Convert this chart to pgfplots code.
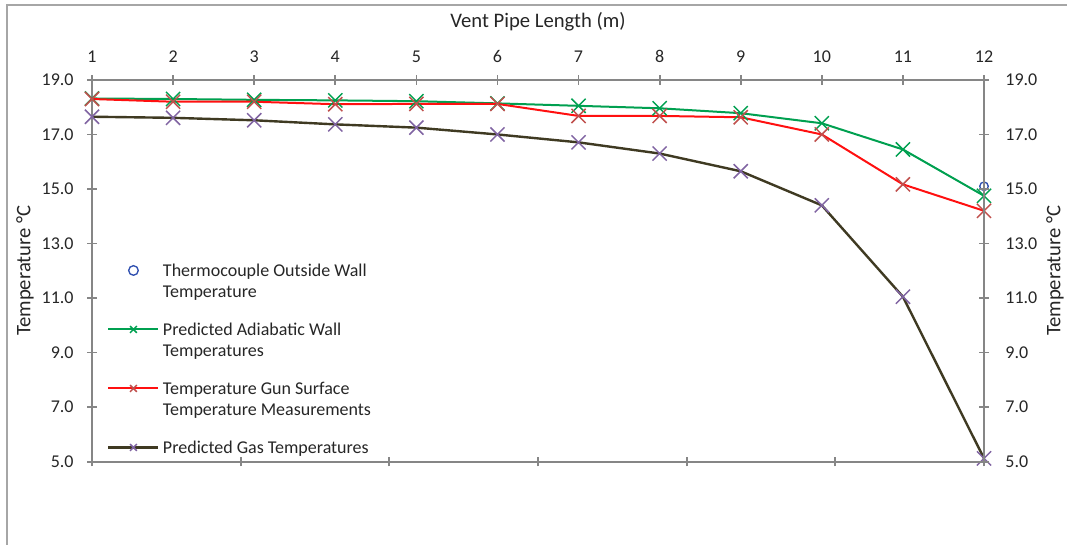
\documentclass[border=0pt]{standalone}
\usepackage{pgfplots}
\pgfplotsset{compat=1.18}
\usepackage{fontspec}
\setmainfont{Carlito}
\definecolor{axgray}{HTML}{868686}
\definecolor{framegray}{HTML}{A6A6A6}
\definecolor{txt}{HTML}{262626}
\definecolor{cgreen}{HTML}{00A050}
\definecolor{cred}{HTML}{FF1010}
\definecolor{credm}{HTML}{C0504D}
\definecolor{cgas}{HTML}{3F3A22}
\definecolor{cgasm}{HTML}{8064A2}
\definecolor{cblue}{HTML}{3050B0}
\newcommand{\tfont}{\fontsize{13.5}{15.75}\selectfont}
\newcommand{\lfont}{\fontsize{15.5}{18}\selectfont}
\newcommand{\ls}{\rule[-5pt]{0pt}{15.75pt}}
\newcommand{\gap}{\rule{0pt}{12.75pt}}
\pgfplotstableread{
x green red gas
1 18.32 18.30 17.65
2 18.30 18.20 17.61
3 18.27 18.20 17.52
4 18.25 18.11 17.37
5 18.22 18.12 17.25
6 18.14 18.12 17.00
7 18.05 17.68 16.71
8 17.96 17.68 16.30
9 17.78 17.63 15.65
10 17.41 17.00 14.40
11 16.45 15.17 11.05
12 14.75 14.20 5.12
}\datatable
\pgfplotsset{
  common/.style={
    at={(69pt,62.5pt)}, anchor=south west,
    scale only axis, width=669pt, height=286.3pt,
    ymin=5, ymax=19, ytick={5,7,...,19},
    axis line style={-, axgray, line width=1.3pt},
    tick style={axgray, line width=1.3pt},
    major tick length=7pt, tick align=center,
    ticklabel style={font=\tfont, text=txt},
    label style={font=\lfont, text=txt},
    yticklabel style={/pgf/number format/fixed, /pgf/number format/fixed zerofill, /pgf/number format/precision=1, /pgf/number format/assume math mode=true},
    clip=false,
  }
}
\begin{document}
\begin{tikzpicture}
\draw[framegray, line width=1.1pt] (5.25pt,-2pt) -- (5.25pt,405pt) -- (802pt,405pt);
\begin{axis}[common,
  xmin=1, xmax=12, xtick={1,...,12},
  axis x line*=top, axis y line*=left,
  xticklabel style={/pgf/number format/assume math mode=true, yshift=6pt},
  yticklabel style={xshift=-6.75pt},
  xlabel={Vent Pipe Length (m)},
  xlabel style={at={(axis description cs:0.5,1)}, anchor=center, yshift=43.5pt},
  ylabel={Temperature °C},
  ylabel style={at={([xshift=-50.25pt]axis description cs:0,0.5)}, anchor=center},
  legend image code/.code={\draw[mark repeat=2,mark phase=2,#1] plot coordinates {(0pt,0pt) (18.75pt,0pt) (37.5pt,0pt)};},
  legend image post style={yshift=4.3pt, mark size=3.6pt},
  legend style={draw=none, fill=none, inner sep=0pt, row sep=0pt, column sep=2.5pt,
    at={(axis description cs:0,1)}, anchor=north west, xshift=11.25pt, yshift=-136.25pt,
    font=\tfont, text=txt,
    cells={anchor=base west}, nodes={inner sep=0pt, text depth=}},
]
\addplot[only marks, mark=o, mark size=3.2pt, cblue, line width=1pt] coordinates {(12,15.1)};
\addlegendentry{\ls Thermocouple Outside Wall}
\addlegendimage{empty legend}
\addlegendentry{\ls Temperature}
\addlegendimage{empty legend}
\addlegendentry{\gap}
\addplot[cgreen, line width=1.5pt, mark=x, mark size=7.5pt, mark options={cgreen, line width=1.1pt}] table[x=x,y=green] {\datatable};
\addlegendentry{\ls Predicted Adiabatic Wall}
\addlegendimage{empty legend}
\addlegendentry{\ls Temperatures}
\addlegendimage{empty legend}
\addlegendentry{\gap}
\addplot[cred, line width=1.5pt, mark=x, mark size=7.5pt, mark options={credm, line width=1.1pt}] table[x=x,y=red] {\datatable};
\addlegendentry{\ls Temperature Gun Surface}
\addlegendimage{empty legend}
\addlegendentry{\ls Temperature Measurements}
\addlegendimage{empty legend}
\addlegendentry{\gap}
\addplot[cgas, line width=1.8pt, mark=x, mark size=7.5pt, mark options={cgasm, line width=1.1pt}] table[x=x,y=gas] {\datatable};
\addlegendentry{\ls Predicted Gas Temperatures}
\end{axis}
\begin{axis}[common,
  xmin=0, xmax=6, xtick={0,...,6}, xticklabels={},
  axis x line*=bottom, axis y line*=right,
  yticklabel style={xshift=9pt},
  ylabel={Temperature °C},
  ylabel style={at={([xshift=53.25pt]axis description cs:1,0.5)}, anchor=center},
]
\end{axis}
\pgfresetboundingbox
\path[use as bounding box] (0pt,0pt) rectangle (800.25pt,408.75pt);
\end{tikzpicture}
\end{document}
